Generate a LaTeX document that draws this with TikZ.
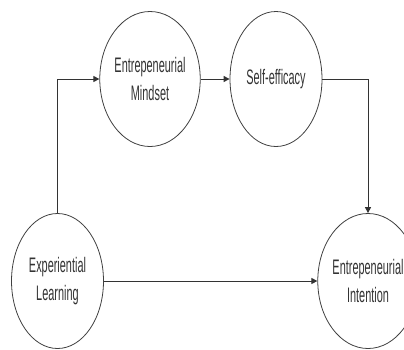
\documentclass[tikz,border=0pt]{standalone}
\usepackage{fontspec}
\setmainfont{Liberation Sans}[FakeStretch=0.52]
\usetikzlibrary{shapes.geometric,arrows.meta}
\begin{document}
\begin{tikzpicture}[x=1pt,y=-1pt,
  var/.style={ellipse, draw=black!75, line width=0.8pt, minimum width=92pt, minimum height=135pt,
    inner sep=0pt, align=center, font=\fontsize{21}{28}\selectfont, text=black!80},
  link/.style={draw=black!80, line width=1pt, -{Triangle[length=6pt,width=6pt]}}]
\useasboundingbox (0,0) rectangle (404,349);
\node[var] (em) at (150,79) {Entrepeneurial\\Mindset};
\node[var] (se) at (276,79) {Self-efficacy};
\node[var] (el) at (57.5,281) {Experiential\\Learning};
\node[var] (ei) at (368,281) {Entrepeneurial\\Intention};
\draw[link] (el.north) |- (em.west);
\draw[link] (em.east) -- (se.west);
\draw[link] (se.east) -| (ei.north);
\draw[link] (el.east) -- (ei.west);
\end{tikzpicture}
\end{document}
